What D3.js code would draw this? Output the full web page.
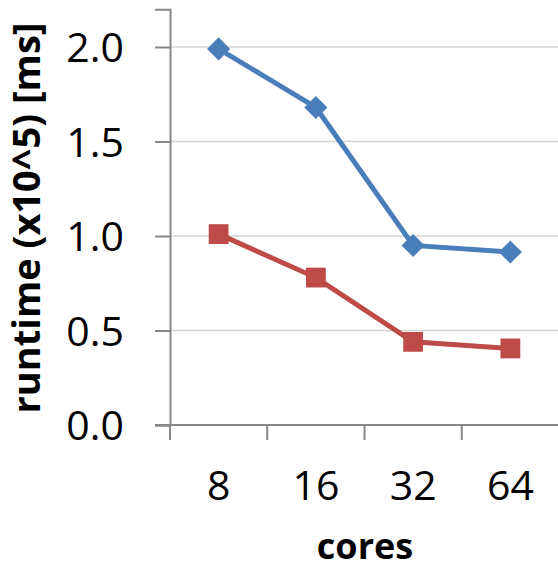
<!DOCTYPE html>
<html>
<head>
<meta charset="utf-8">
<script src="https://cdn.jsdelivr.net/npm/d3@7"></script>
<style>
  body { margin: 0; background: #fff; }
  svg { display: block; }
</style>
</head>
<body>
<div id="chart"></div>
<script>
const cores = ["8", "16", "32", "64"];
const blueSeries = [1.99, 1.68, 0.95, 0.915];
const redSeries = [1.01, 0.78, 0.44, 0.405];
const yTicks = [0, 0.5, 1.0, 1.5, 2.0];

const width = 558;
const height = 571;
const font = "'Open Sans', 'DejaVu Sans', sans-serif";

const svg = d3
  .select("#chart")
  .append("svg")
  .attr("width", width)
  .attr("height", height);

const x = d3.scaleBand().domain(cores).range([170, 559]);
const y = d3.scaleLinear().domain([0, 2.2]).range([425, 9.2]);

// gridlines
svg
  .append("g")
  .selectAll("line")
  .data(yTicks.filter((d) => d > 0))
  .enter()
  .append("line")
  .attr("x1", 170)
  .attr("x2", width)
  .attr("y1", (d) => y(d))
  .attr("y2", (d) => y(d))
  .attr("stroke", "#d4d4d4")
  .attr("stroke-width", 1.5);

// y axis
const yAxis = svg
  .append("g")
  .attr("transform", "translate(170,0)")
  .call(
    d3
      .axisLeft(y)
      .tickValues(yTicks)
      .tickSize(15)
      .tickPadding(31)
      .tickFormat(d3.format(".1f"))
  );
yAxis.select(".domain").attr("stroke", "#878787").attr("stroke-width", 2);
yAxis.selectAll(".tick line").attr("stroke", "#878787").attr("stroke-width", 2);
yAxis
  .selectAll(".tick text")
  .attr("font-family", font)
  .attr("font-size", 41)
  .attr("fill", "#000")
  .attr("dy", "0.36em");

// x axis
const xAxis = svg
  .append("g")
  .attr("transform", "translate(0,425)")
  .call(d3.axisBottom(x).tickSize(0).tickPadding(48));
xAxis.select(".domain").remove();
xAxis
  .selectAll(".tick text")
  .attr("font-family", font)
  .attr("font-size", 41)
  .attr("fill", "#000")
  .attr("dy", 0)
  .attr("y", 75);

svg
  .append("line")
  .attr("x1", 155)
  .attr("x2", width)
  .attr("y1", 425)
  .attr("y2", 425)
  .attr("stroke", "#878787")
  .attr("stroke-width", 2);

svg
  .append("g")
  .selectAll("line")
  .data(cores)
  .enter()
  .append("line")
  .attr("x1", (d) => x(d))
  .attr("x2", (d) => x(d))
  .attr("y1", 425)
  .attr("y2", 440)
  .attr("stroke", "#878787")
  .attr("stroke-width", 2);

// lines
const line = d3
  .line()
  .x((d, i) => x(cores[i]) + x.bandwidth() / 2)
  .y((d) => y(d));

const series = [
  { values: blueSeries, color: "#4A7EBB", symbol: d3.symbolDiamond2, size: 340 },
  { values: redSeries, color: "#BE4B48", symbol: d3.symbolSquare2, size: 500 },
];

series.forEach((s) => {
  svg
    .append("path")
    .attr("d", line(s.values))
    .attr("fill", "none")
    .attr("stroke", s.color)
    .attr("stroke-width", 5);

  svg
    .append("g")
    .selectAll("path")
    .data(s.values)
    .enter()
    .append("path")
    .attr(
      "transform",
      (d, i) => `translate(${x(cores[i]) + x.bandwidth() / 2},${y(d)})`
    )
    .attr("d", d3.symbol().type(s.symbol).size(s.size))
    .attr("fill", s.color);
});

// axis titles
svg
  .append("text")
  .attr("x", 365)
  .attr("y", 559)
  .attr("text-anchor", "middle")
  .attr("font-family", font)
  .attr("font-weight", "bold")
  .attr("font-size", 36)
  .text("cores");

svg
  .append("text")
  .attr("transform", "translate(40,218) rotate(-90)")
  .attr("text-anchor", "middle")
  .attr("font-family", font)
  .attr("font-weight", "bold")
  .attr("font-size", 38)
  .text("runtime (x10^5) [ms]");
</script>
</body>
</html>
